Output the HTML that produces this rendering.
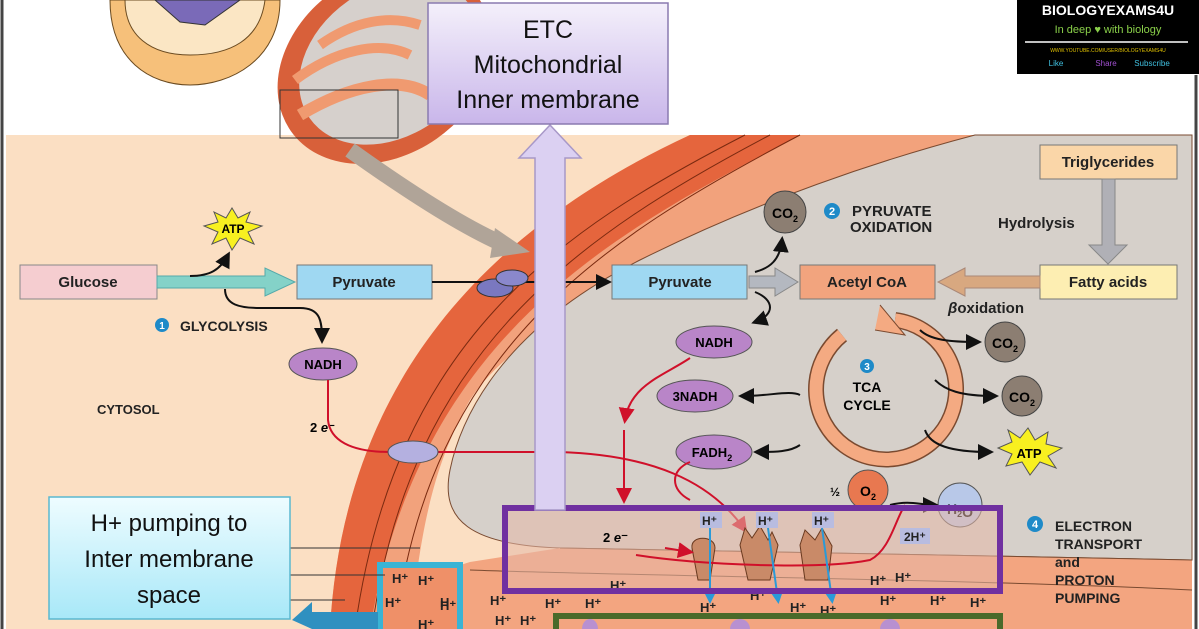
<!DOCTYPE html>
<html><head><meta charset="utf-8"><style>
html,body{margin:0;padding:0;background:#fff;width:1199px;height:629px;overflow:hidden}
svg text{font-family:"Liberation Sans",Arial,sans-serif}
</style></head><body>
<svg width="1199" height="629" viewBox="0 0 1199 629" xmlns="http://www.w3.org/2000/svg">
<defs>
<linearGradient id="lav" x1="0" y1="0" x2="0" y2="1"><stop offset="0" stop-color="#f4f0fb"/><stop offset="1" stop-color="#c9b6ea"/></linearGradient>
<linearGradient id="cy" x1="0" y1="0" x2="0" y2="1"><stop offset="0" stop-color="#eefcff"/><stop offset="1" stop-color="#a8e8f8"/></linearGradient>
<marker id="ah" markerWidth="8" markerHeight="8" refX="6" refY="4" orient="auto"><path d="M0,0 L8,4 L0,8 Z" fill="#111"/></marker>
<marker id="ar" markerWidth="8" markerHeight="8" refX="6" refY="4" orient="auto"><path d="M0,0 L8,4 L0,8 Z" fill="#d0102a"/></marker>
<marker id="ab" markerWidth="6" markerHeight="6" refX="4" refY="3" orient="auto"><path d="M0,0 L6,3 L0,6 Z" fill="#2a9ad8"/></marker>
</defs>
<rect width="1199" height="629" fill="#fff"/>
<line x1="2" y1="0" x2="2" y2="629" stroke="#444" stroke-width="3"/>
<line x1="1196" y1="75" x2="1196" y2="629" stroke="#444" stroke-width="3"/>
<rect x="6" y="135" width="1186" height="494" fill="#fbdfc3"/>
<path d="M690,135 L975,135 C800,220 540,290 470,400 C430,470 420,540 410,629 L330,629 C340,450 420,260 690,135 Z" fill="#f2a27c"/>
<path d="M690,135 L800,135 C620,230 420,330 370,629 L330,629 C340,450 420,260 690,135 Z" fill="#e5653d"/>
<path d="M745,135 C560,230 395,340 355,629" fill="none" stroke="#7a2a10" stroke-width="1"/>
<path d="M770,135 C580,235 410,350 372,629" fill="none" stroke="#7a2a10" stroke-width="1"/>
<path d="M800,135 C600,240 430,350 395,629" fill="none" stroke="#7a2a10" stroke-width="1"/>
<path d="M975,135 L1192,135 L1192,560 C1000,555 700,552 560,548 C470,545 440,520 450,470 C460,420 500,330 640,260 C760,200 880,160 975,135 Z" fill="#d6d0ca" stroke="#7a4a30" stroke-width="1"/>
<path d="M560,548 C700,552 1000,555 1192,560 L1192,629 L400,629 C410,600 440,570 470,562 Z" fill="#f3a580"/>
<path d="M560,548 C700,552 1000,555 1192,560" fill="none" stroke="#7a4a30" stroke-width="1"/>
<path d="M470,570 C600,575 1000,580 1192,590" fill="none" stroke="#7a4a30" stroke-width="1"/>
<rect x="380" y="565" width="80" height="64" fill="#ef9068"/>
<path d="M110,0 L280,0 C280,60 230,85 190,85 C150,85 110,60 110,0 Z" fill="#f6c07a" stroke="#6a4a20"/>
<path d="M125,0 L265,0 C260,40 230,55 190,55 C150,55 125,35 125,0 Z" fill="#fbe6c4" stroke="#6a4a20"/>
<path d="M155,0 L240,0 L205,25 L180,22 Z" fill="#7a6ab8" stroke="#333"/>
<ellipse cx="385" cy="65" rx="115" ry="90" fill="#d8603a" transform="rotate(-35 385 65)"/>
<ellipse cx="390" cy="62" rx="98" ry="74" fill="#d6d0cc" transform="rotate(-35 390 62)"/>
<path d="M300,115 C350,85 400,75 430,95" fill="none" stroke="#f09a70" stroke-width="12"/>
<path d="M295,80 C335,50 380,40 410,55" fill="none" stroke="#f09a70" stroke-width="10"/>
<path d="M320,45 C355,20 390,15 420,25" fill="none" stroke="#f09a70" stroke-width="10"/>
<path d="M430,100 C445,80 440,50 435,30" fill="none" stroke="#f09a70" stroke-width="10"/>
<rect x="280" y="90" width="118" height="48" fill="none" stroke="#333" stroke-width="1"/>
<path d="M350,150 C420,200 470,230 505,245" fill="none" stroke="#b0a498" stroke-width="16"/>
<path d="M495,228 L530,252 L490,258 Z" fill="#b0a498"/>
<rect x="1017" y="0" width="182" height="74" fill="#000"/>
<text x="1108" y="15" font-size="14" font-weight="bold" fill="#fff" text-anchor="middle">BIOLOGYEXAMS4U</text>
<text x="1108" y="33" font-size="11" fill="#8ad04a" text-anchor="middle">In deep ♥ with biology</text>
<line x1="1025" y1="42" x2="1188" y2="42" stroke="#fff" stroke-width="1.5"/>
<text x="1108" y="52" font-size="5" fill="#e0c000" text-anchor="middle">WWW.YOUTUBE.COM/USER/BIOLOGYEXAMS4U</text>
<text x="1056" y="66" font-size="8" fill="#40c0e0" text-anchor="middle">Like</text>
<text x="1106" y="66" font-size="8" fill="#a050d0" text-anchor="middle">Share</text>
<text x="1152" y="66" font-size="8" fill="#40c0e0" text-anchor="middle">Subscribe</text>
<rect x="20" y="265" width="137" height="34" fill="#f5cdd0" stroke="#888"/>
<text x="88" y="287" font-size="15" font-weight="bold" text-anchor="middle" fill="#222">Glucose</text>
<path d="M157,276 L265,276 L265,268 L295,282 L265,296 L265,288 L157,288 Z" fill="#84d2c8" stroke="#5aa"/>
<rect x="297" y="265" width="135" height="34" fill="#9fd8f2" stroke="#777"/>
<text x="364" y="287" font-size="15" font-weight="bold" text-anchor="middle" fill="#222">Pyruvate</text>
<path d="M190,276 C210,276 220,270 228,255" fill="none" stroke="#111" stroke-width="2" marker-end="url(#ah)"/>
<polygon points="232,208 238,218 250,212 246,222 262,226 248,232 254,244 240,238 232,250 226,238 212,244 218,232 204,226 218,222 214,212 226,218" fill="#f8f020" stroke="#555"/>
<text x="233" y="233" font-size="12" font-weight="bold" text-anchor="middle">ATP</text>
<path d="M225,289 C225,305 240,308 260,308 L300,308 C320,308 322,320 322,340" fill="none" stroke="#111" stroke-width="2" marker-end="url(#ah)"/>
<circle cx="162" cy="325" r="7" fill="#1e8ac8"/><text x="162" y="329" font-size="10" font-weight="bold" fill="#fff" text-anchor="middle">1</text>
<text x="180" y="331" font-size="14" font-weight="bold" fill="#222">GLYCOLYSIS</text>
<ellipse cx="323" cy="364" rx="34" ry="16" fill="#b985c8" stroke="#555"/>
<text x="323" y="369" font-size="13" font-weight="bold" text-anchor="middle">NADH</text>
<text x="97" y="414" font-size="13" font-weight="bold" fill="#222">CYTOSOL</text>
<text x="310" y="432" font-size="13" font-weight="bold">2 <tspan font-style="italic">e</tspan>⁻</text>
<path d="M328,380 L328,420 C330,440 350,452 390,452 L560,452 C650,455 710,480 745,530" fill="none" stroke="#d0102a" stroke-width="2" marker-end="url(#ar)"/>
<ellipse cx="413" cy="452" rx="25" ry="11" fill="#b4b0e0" stroke="#555"/>
<line x1="432" y1="282" x2="608" y2="282" stroke="#111" stroke-width="2" marker-end="url(#ah)"/>
<ellipse cx="495" cy="288" rx="18" ry="9" fill="#7a78c0" stroke="#333"/>
<ellipse cx="512" cy="278" rx="16" ry="8" fill="#8a88cc" stroke="#333"/>
<rect x="612" y="265" width="135" height="34" fill="#9fd8f2" stroke="#777"/>
<text x="680" y="287" font-size="15" font-weight="bold" text-anchor="middle" fill="#222">Pyruvate</text>
<path d="M749,276 L775,276 L775,268 L798,282 L775,296 L775,288 L749,288 Z" fill="#b4b8c0" stroke="#888"/>
<path d="M755,272 C770,268 780,260 782,240" fill="none" stroke="#111" stroke-width="2" marker-end="url(#ah)"/>
<path d="M755,292 C775,300 775,315 755,322" fill="none" stroke="#111" stroke-width="2" marker-end="url(#ah)"/>
<circle cx="785" cy="212" r="21" fill="#8c7e72" stroke="#444"/>
<text x="785" y="218" font-size="14" font-weight="bold" text-anchor="middle">CO<tspan font-size="9" dy="4">2</tspan></text>
<circle cx="832" cy="211" r="8" fill="#1e8ac8"/><text x="832" y="215" font-size="11" font-weight="bold" fill="#fff" text-anchor="middle">2</text>
<text x="852" y="216" font-size="15" font-weight="bold" fill="#222">PYRUVATE</text>
<text x="850" y="232" font-size="15" font-weight="bold" fill="#222">OXIDATION</text>
<rect x="800" y="265" width="135" height="34" fill="#f2a47e" stroke="#777"/>
<text x="867" y="287" font-size="15" font-weight="bold" text-anchor="middle" fill="#222">Acetyl CoA</text>
<rect x="1040" y="145" width="137" height="34" fill="#fad6a8" stroke="#777"/>
<text x="1108" y="167" font-size="15" font-weight="bold" text-anchor="middle" fill="#222">Triglycerides</text>
<text x="998" y="228" font-size="15" font-weight="bold" fill="#222">Hydrolysis</text>
<path d="M1102,179 L1115,179 L1115,245 L1127,245 L1108,264 L1089,245 L1102,245 Z" fill="#b0b0b6" stroke="#888"/>
<rect x="1040" y="265" width="137" height="34" fill="#fdeeb2" stroke="#777"/>
<text x="1108" y="287" font-size="15" font-weight="bold" text-anchor="middle" fill="#222">Fatty acids</text>
<path d="M1040,276 L965,276 L965,268 L938,282 L965,296 L965,288 L1040,288 Z" fill="#d8a880" stroke="#a87"/>
<text x="948" y="313" font-size="15" font-weight="bold" fill="#222"><tspan font-style="italic">β</tspan>oxidation</text>
<ellipse cx="714" cy="342" rx="38" ry="16" fill="#b985c8" stroke="#555"/>
<text x="714" y="347" font-size="13" font-weight="bold" text-anchor="middle">NADH</text>
<path d="M842,335 A70,70 0 1 0 895,320" fill="none" stroke="#7a4a30" stroke-width="16"/>
<path d="M842,335 A70,70 0 1 0 895,320" fill="none" stroke="#f4aa82" stroke-width="13"/>
<path d="M880,305 L905,335 L875,330" fill="#f4aa82" stroke="#7a4a30"/>
<circle cx="867" cy="366" r="7" fill="#1e8ac8"/><text x="867" y="370" font-size="10" font-weight="bold" fill="#fff" text-anchor="middle">3</text>
<text x="867" y="392" font-size="14" font-weight="bold" text-anchor="middle">TCA</text>
<text x="867" y="410" font-size="14" font-weight="bold" text-anchor="middle">CYCLE</text>
<path d="M920,330 C930,340 950,342 978,342" fill="none" stroke="#111" stroke-width="2" marker-end="url(#ah)"/>
<path d="M935,380 C945,390 960,396 995,396" fill="none" stroke="#111" stroke-width="2" marker-end="url(#ah)"/>
<path d="M925,430 C930,445 950,452 990,452" fill="none" stroke="#111" stroke-width="2" marker-end="url(#ah)"/>
<path d="M800,395 C790,390 770,396 742,396" fill="none" stroke="#111" stroke-width="2" marker-end="url(#ah)"/>
<path d="M800,445 C790,452 775,452 757,452" fill="none" stroke="#111" stroke-width="2" marker-end="url(#ah)"/>
<path d="M690,358 C665,375 630,385 625,420" fill="none" stroke="#d0102a" stroke-width="2" marker-end="url(#ar)"/>
<circle cx="1005" cy="342" r="20" fill="#8c7e72" stroke="#444"/>
<text x="1005" y="348" font-size="14" font-weight="bold" text-anchor="middle">CO<tspan font-size="9" dy="4">2</tspan></text>
<circle cx="1022" cy="396" r="20" fill="#8c7e72" stroke="#444"/>
<text x="1022" y="402" font-size="14" font-weight="bold" text-anchor="middle">CO<tspan font-size="9" dy="4">2</tspan></text>
<polygon points="1028,428 1035,440 1048,432 1046,444 1062,448 1048,456 1056,468 1040,462 1030,475 1022,462 1006,466 1012,454 998,448 1012,442 1008,430 1020,438" fill="#f8f020" stroke="#555"/>
<text x="1029" y="458" font-size="13" font-weight="bold" text-anchor="middle">ATP</text>
<ellipse cx="695" cy="396" rx="38" ry="16" fill="#b985c8" stroke="#555"/>
<text x="695" y="401" font-size="13" font-weight="bold" text-anchor="middle">3NADH</text>
<ellipse cx="714" cy="452" rx="38" ry="17" fill="#b985c8" stroke="#555"/>
<text x="712" y="457" font-size="13" font-weight="bold" text-anchor="middle">FADH<tspan font-size="9" dy="4">2</tspan></text>
<path d="M624,430 L624,500" fill="none" stroke="#d0102a" stroke-width="2" marker-end="url(#ar)"/>
<path d="M690,462 C670,470 670,490 690,500" fill="none" stroke="#d0102a" stroke-width="2"/>
<text x="830" y="496" font-size="12" font-weight="bold">½</text>
<circle cx="868" cy="490" r="20" fill="#e87850" stroke="#555"/>
<text x="868" y="496" font-size="14" font-weight="bold" text-anchor="middle">O<tspan font-size="9" dy="4">2</tspan></text>
<circle cx="960" cy="505" r="22" fill="#b8c8e8" stroke="#555"/>
<text x="960" y="514" font-size="14" font-weight="bold" text-anchor="middle">H<tspan font-size="9" dy="3">2</tspan>O</text>
<path d="M890,505 C910,500 920,505 935,505" fill="none" stroke="#111" stroke-width="2" marker-end="url(#ah)"/>
<circle cx="1035" cy="524" r="8" fill="#1e8ac8"/><text x="1035" y="528" font-size="11" font-weight="bold" fill="#fff" text-anchor="middle">4</text>
<text x="1055" y="531" font-size="14" font-weight="bold" fill="#222">ELECTRON</text>
<text x="1055" y="549" font-size="14" font-weight="bold" fill="#222">TRANSPORT</text>
<text x="1055" y="567" font-size="14" font-weight="bold" fill="#222">and</text>
<text x="1055" y="585" font-size="14" font-weight="bold" fill="#222">PROTON</text>
<text x="1055" y="603" font-size="14" font-weight="bold" fill="#222">PUMPING</text>
<rect x="505" y="508" width="495" height="83" fill="#e6b8a8" opacity="0.55"/>
<text x="603" y="542" font-size="13" font-weight="bold">2 <tspan font-style="italic">e</tspan>⁻</text>
<g fill="#c98a68" stroke="#6a3a20">
<path d="M692,548 C690,535 715,535 715,548 L710,580 L698,580 Z"/>
<path d="M740,545 L745,528 L752,538 L760,526 L768,540 L772,532 L778,545 L770,580 L748,580 Z"/>
<path d="M800,545 L805,530 L815,540 L822,528 L832,546 L828,580 L805,580 Z"/>
</g>
<path d="M636,555 C700,565 820,570 870,560 C890,550 895,520 905,505" fill="none" stroke="#d0102a" stroke-width="2"/>
<path d="M665,548 L690,552" stroke="#d0102a" stroke-width="2" marker-end="url(#ar)"/>
<g font-size="12" font-weight="bold" fill="#222">
<rect x="700" y="512" width="22" height="16" fill="#b8bce0"/><text x="702" y="525">H⁺</text>
<rect x="756" y="512" width="22" height="16" fill="#b8bce0"/><text x="758" y="525">H⁺</text>
<rect x="812" y="512" width="22" height="16" fill="#b8bce0"/><text x="814" y="525">H⁺</text>
<rect x="900" y="528" width="30" height="16" fill="#b8bce0"/><text x="904" y="541">2H⁺</text>
</g>
<g stroke="#2a9ad8" stroke-width="2">
<line x1="710" y1="528" x2="710" y2="600" marker-end="url(#ab)"/>
<line x1="768" y1="528" x2="778" y2="600" marker-end="url(#ab)"/>
<line x1="822" y1="528" x2="832" y2="600" marker-end="url(#ab)"/>
</g>
<g font-size="13" font-weight="bold" fill="#222">
<text x="392" y="583">H⁺</text><text x="418" y="585">H⁺</text><text x="385" y="607">H⁺</text><text x="440" y="607">H</text><text x="418" y="629">H⁺</text>
<text x="440" y="610">H⁺</text><text x="490" y="605">H⁺</text><text x="495" y="625">H⁺</text><text x="520" y="625">H⁺</text><text x="545" y="608">H⁺</text>
<text x="585" y="608">H⁺</text><text x="610" y="590">H⁺</text><text x="700" y="612">H⁺</text><text x="750" y="600">H⁺</text><text x="790" y="612">H⁺</text>
<text x="820" y="615">H⁺</text><text x="870" y="585">H⁺</text><text x="895" y="582">H⁺</text><text x="880" y="605">H⁺</text><text x="930" y="605">H⁺</text><text x="970" y="607">H⁺</text>
</g>
<rect x="505" y="508" width="495" height="83" fill="none" stroke="#7030a0" stroke-width="6"/>
<rect x="380" y="565" width="80" height="70" fill="none" stroke="#3ab4d4" stroke-width="6"/>
<rect x="556" y="616" width="444" height="20" fill="none" stroke="#4a6a2a" stroke-width="6"/>
<ellipse cx="590" cy="629" rx="8" ry="10" fill="#b890d0"/>
<ellipse cx="740" cy="629" rx="10" ry="10" fill="#b890d0"/>
<ellipse cx="890" cy="629" rx="10" ry="10" fill="#b890d0"/>
<path d="M535,510 L535,158 L519,158 L550,125 L581,158 L565,158 L565,510 Z" fill="#dbd0f2" stroke="#a898c8" stroke-width="1.5"/>
<rect x="428" y="3" width="240" height="121" fill="url(#lav)" stroke="#8a7ab0" stroke-width="1.5"/>
<g font-size="25" text-anchor="middle" fill="#111">
<text x="548" y="38">ETC</text><text x="548" y="73">Mitochondrial</text><text x="548" y="108">Inner membrane</text>
</g>
<line x1="290" y1="548" x2="420" y2="548" stroke="#333"/>
<line x1="290" y1="575" x2="385" y2="575" stroke="#333"/>
<line x1="290" y1="600" x2="345" y2="600" stroke="#333"/>
<rect x="49" y="497" width="241" height="122" fill="url(#cy)" stroke="#5ab8d0" stroke-width="1.5"/>
<g font-size="24" text-anchor="middle" fill="#111">
<text x="169" y="531">H+ pumping to</text><text x="169" y="567">Inter membrane</text><text x="169" y="603">space</text>
</g>
<path d="M378,612 L312,612 L312,602 L292,620 L312,629 L378,629 Z" fill="#2f90c0"/>
</svg>
</body></html>
